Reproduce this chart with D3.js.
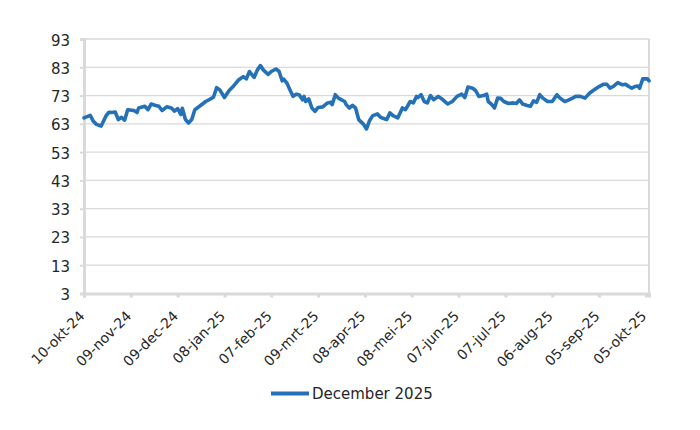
<!DOCTYPE html>
<html>
<head>
<meta charset="utf-8">
<script src="https://cdn.jsdelivr.net/npm/d3@7"></script>
<style>
  html, body { margin: 0; padding: 0; background: #fff; }
  svg { display: block; }
  text { font-family: "DejaVu Sans", sans-serif; fill: #262626; }
</style>
</head>
<body>
<svg id="chart" width="700" height="430"></svg>
<script>
// ---- Data ----
const seriesName = "December 2025";
const startDate = "2024-10-10";
const endDate = "2025-10-07";
// days since start date
const dayOffsets = [0,4,6,8,11,14,16,18,20,22,24,26,28,32,34,35,39,41,43,46,48,50,53,56,58,60,62,63,65,67,69,71,74,78,82,83,85,87,90,93,96,99,102,104,106,109,111,113,115,118,120,123,125,127,128,130,132,134,136,138,140,141,142,144,146,148,150,153,156,158,159,161,163,165,167,168,170,172,174,176,179,181,183,185,188,190,192,194,196,198,201,204,206,209,211,213,214,216,218,220,222,224,227,230,233,236,239,242,244,246,249,251,253,256,258,259,261,263,265,267,269,272,275,277,279,281,284,286,288,290,292,294,297,300,303,305,308,310,313,315,318,321,324,326,330,333,335,337,339,342,345,347,349,351,353,355,356,358,361,362];
const values = [65.1,66.0,63.9,62.8,62.2,65.7,67.1,67.0,67.2,64.5,65.3,64.3,68.0,67.7,67.0,68.6,69.2,68.0,70.0,69.5,69.2,67.7,69.0,68.6,67.5,68.4,66.3,68.5,64.5,63.3,64.5,68.0,69.2,70.9,72.1,72.5,75.8,75.0,72.3,74.8,76.5,78.5,79.7,78.9,81.5,79.4,82.0,83.6,82.0,80.5,81.5,82.4,81.5,78.2,78.8,77.4,75.0,72.7,73.5,73.2,71.5,72.7,70.9,71.8,68.6,67.4,68.8,69.0,70.4,70.6,69.8,73.3,72.1,71.5,70.9,69.8,68.6,69.5,68.6,64.5,62.9,61.2,64.2,65.9,66.5,65.3,64.9,64.5,66.9,65.9,65.1,68.6,68.0,70.9,70.4,72.7,72.3,73.3,70.9,70.4,73.0,71.5,72.7,71.5,70.0,70.9,72.7,73.5,72.3,76.0,75.6,74.7,72.7,73.0,73.5,70.9,70.0,68.6,72.1,72.0,70.9,70.2,70.4,70.2,71.5,70.0,69.5,69.2,71.1,70.6,73.3,72.1,70.9,70.9,73.3,72.1,70.9,71.3,72.1,72.7,72.7,72.1,73.9,74.7,76.2,77.0,77.0,75.6,76.2,77.6,76.8,77.0,76.2,75.6,76.2,76.4,75.6,78.9,78.9,78.2];
const yTicks = [3,13,23,33,43,53,63,73,83,93];
const xTickDates = ["2024-10-10","2024-11-09","2024-12-09","2025-01-08","2025-02-07","2025-03-09","2025-04-08","2025-05-08","2025-06-07","2025-07-07","2025-08-06","2025-09-05","2025-10-05"];

// ---- Setup ----
const parse = d3.utcParse("%Y-%m-%d");
const start = parse(startDate);
const data = dayOffsets.map((d, i) => ({ date: d3.utcDay.offset(start, d), value: values[i] }));

const nl = d3.timeFormatLocale({
  dateTime: "%a %e %B %Y %X", date: "%d-%m-%Y", time: "%H:%M:%S", periods: ["AM", "PM"],
  days: ["zondag","maandag","dinsdag","woensdag","donderdag","vrijdag","zaterdag"],
  shortDays: ["zo","ma","di","wo","do","vr","za"],
  months: ["januari","februari","maart","april","mei","juni","juli","augustus","september","oktober","november","december"],
  shortMonths: ["jan","feb","mrt","apr","mei","jun","jul","aug","sep","okt","nov","dec"]
});
const fmt = nl.utcFormat("%d-%b-%y");

const svg = d3.select("#chart");
const mLeft = 84, mRight = 649, mTop = 39, mBottom = 293.5;
const color = "#2571b7";
const gridColor = "#d9d9d9";

const x = d3.scaleUtc().domain([start, parse(endDate)]).range([mLeft, mRight]);
const y = d3.scaleLinear().domain([3, 93]).range([mBottom, mTop]);

// gridlines
svg.append("g").selectAll("line").data(yTicks.filter(t => t !== 3)).join("line")
  .attr("x1", mLeft).attr("x2", mRight)
  .attr("y1", d => y(d)).attr("y2", d => y(d))
  .attr("stroke", gridColor).attr("stroke-width", 1.3);

// right border
svg.append("line").attr("x1", mRight).attr("x2", mRight).attr("y1", y(93)).attr("y2", mBottom)
  .attr("stroke", gridColor).attr("stroke-width", 2);

// y axis
const yAxis = svg.append("g").attr("transform", `translate(${mLeft},0)`)
  .call(d3.axisLeft(y).tickValues(yTicks).tickSize(4).tickPadding(10).tickFormat(d3.format("d")));
yAxis.select(".domain").attr("stroke", gridColor).attr("stroke-width", 3);
yAxis.selectAll(".tick line").attr("stroke", gridColor).attr("stroke-width", 2);
yAxis.selectAll(".tick text").style("font-size", "15px").style("font-family", "DejaVu Sans").attr("fill", "#262626").attr("dy", "0.4em");

// x axis
const xAxis = svg.append("g").attr("transform", `translate(0,${mBottom})`)
  .call(d3.axisBottom(x).tickValues(xTickDates.map(parse)).tickSize(4).tickFormat(fmt));
xAxis.select(".domain").attr("stroke", gridColor).attr("stroke-width", 3);
xAxis.selectAll(".tick line").attr("stroke", gridColor).attr("stroke-width", 3);
xAxis.selectAll(".tick text")
  .style("font-size", "14px").style("font-family", "DejaVu Sans").attr("fill", "#262626")
  .attr("text-anchor", "end")
  .attr("x", 0).attr("y", 0).attr("dy", "0.35em")
  .attr("transform", "translate(-2.5,20) rotate(-45)");

// line
svg.append("path").datum(data)
  .attr("fill", "none").attr("stroke", color).attr("stroke-width", 3.6)
  .attr("stroke-linejoin", "round").attr("stroke-linecap", "round")
  .attr("d", d3.line().x(d => x(d.date)).y(d => y(d.value)));

// legend
const lg = svg.append("g");
lg.append("line").attr("x1", 271).attr("x2", 309).attr("y1", 393.5).attr("y2", 393.5)
  .attr("stroke", color).attr("stroke-width", 4);
lg.append("text").attr("x", 312).attr("y", 399).style("font-size", "15px").text(seriesName);
</script>
</body>
</html>
